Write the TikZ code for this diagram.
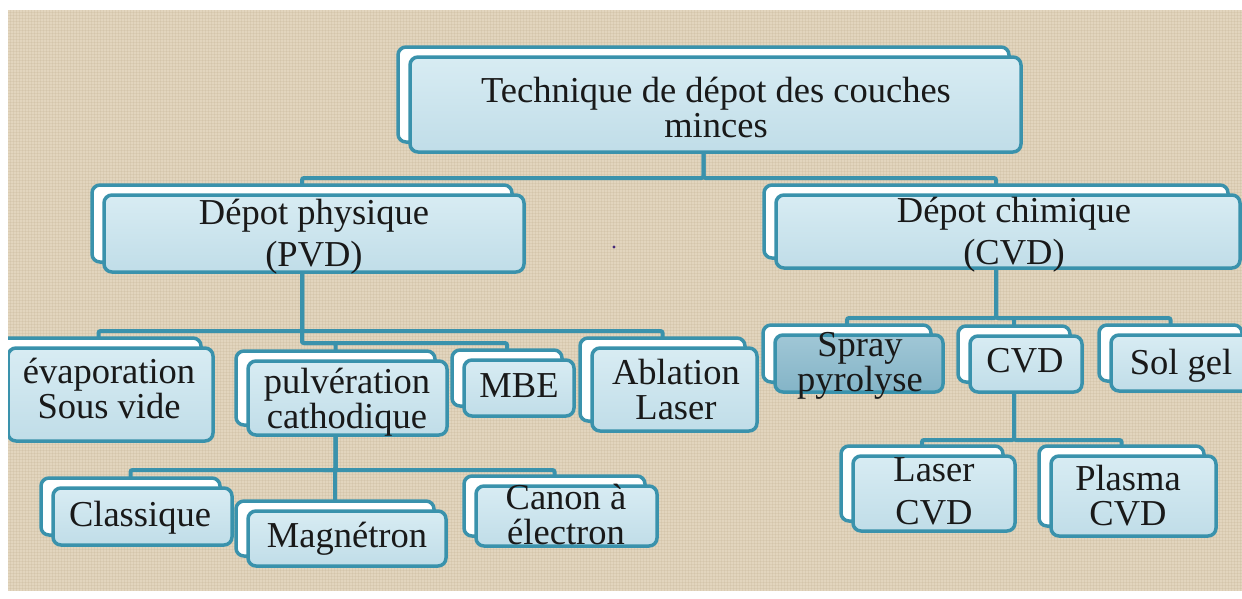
\documentclass[tikz,border=0pt]{standalone}
\usepackage{fontspec}
\setmainfont{Liberation Serif}
\pgfdeclarelayer{bgl}
\pgfdeclarelayer{connl}
\pgfsetlayers{bgl,connl,main}
\definecolor{teal1}{RGB}{58,146,172}
\definecolor{beige}{RGB}{226,213,190}
\definecolor{linen}{RGB}{196,180,150}
\definecolor{ftop}{RGB}{216,236,243}
\definecolor{fbot}{RGB}{192,221,232}
\definecolor{stop}{RGB}{160,199,214}
\definecolor{sbot}{RGB}{132,180,199}
\definecolor{ink}{RGB}{25,25,25}
\definecolor{dotc}{RGB}{70,40,120}
\tikzset{
  backbox/.style={draw=teal1, line width=3.5pt, fill=white, rounded corners=8pt, inner sep=0pt, outer sep=0pt},
  frontbox/.style={draw=teal1, line width=3.5pt, top color=ftop, bottom color=fbot, rounded corners=8pt, inner sep=0pt, outer sep=0pt},
  spraybox/.style={top color=stop, bottom color=sbot},
  conn/.style={draw=teal1, line width=4pt, rounded corners=2pt},
  lbl/.style={text=ink, align=center, inner sep=0pt, font=\fontsize{36.5}{#1}\selectfont},
}
% #1 name, #2 x1, #3 y1, #4 x2, #5 y2, #6 extra front style
\newcommand\tbox[6]{%
  \node[backbox, minimum width=#4-#2, minimum height=#5-#3] (#1-b) at ({(#2+#4)/2-12},{(#3+#5)/2-10}) {};
  \node[frontbox, #6, minimum width=#4-#2, minimum height=#5-#3] (#1) at ({(#2+#4)/2},{(#3+#5)/2}) {};
}
\begin{document}
\begin{tikzpicture}[x=1pt, y=-1pt]
\useasboundingbox (0,0) rectangle (1242,598);
\begin{pgfonlayer}{bgl}
  \fill[white] (0,0) rectangle (1242,598);
  \fill[beige] (8,10) rectangle (1242,591);
  \foreach \i in {10,13,...,1240} \draw[linen, opacity=0.25, line width=0.7pt] (\i,10) -- (\i,591);
  \foreach \j in {12,15,...,590} \draw[linen, opacity=0.25, line width=0.7pt] (8,\j) -- (1242,\j);
\end{pgfonlayer}

% boxes
\tbox{top}{410}{57}{1021}{152}{}
\tbox{pvd}{104}{195}{524}{272}{}
\tbox{cvd}{776}{195}{1240}{268}{}
\tbox{evap}{8}{348}{213}{441}{}
\tbox{pulv}{248}{361}{447}{435}{}
\tbox{mbe}{464}{360}{574}{416}{}
\tbox{abl}{592}{348}{757}{431}{}
\tbox{cla}{53}{488}{232}{545}{}
\tbox{mag}{248}{511}{446}{566}{}
\tbox{can}{476}{486}{657}{546}{}
\tbox{spray}{775}{335}{943}{392}{spraybox}
\tbox{cvds}{970}{336}{1082}{392}{}
\tbox{sol}{1111}{335}{1254}{391}{}
\tbox{las}{853}{456}{1015}{531}{}
\tbox{pla}{1051}{456}{1216}{536}{}

% texts
\node[lbl=35] (top-t) at (716,107.5) {Technique de dépot des couches\\minces};
\node[lbl=42] (pvd-t) at (314,237) {Dépot physique\\(PVD)};
\node[lbl=42] (cvd-t) at (1014,234.5) {Dépot chimique\\(CVD)};
\node[lbl=35] (evap-t) at (109,388.5) {évaporation\\Sous vide};
\node[lbl=35] (pulv-t) at (347,402) {pulvération\\cathodique};
\node[lbl=35] (mbe-t) at (519,386) {MBE};
\node[lbl=35] (abl-t) at (676,389.5) {Ablation\\Laser};
\node[lbl=35] (cla-t) at (140,518) {Classique};
\node[lbl=35] (mag-t) at (347,538.5) {Magnétron};
\node[lbl=35] (can-t) at (566,514.5) {Canon à\\électron};
\node[lbl=35] (spray-t) at (860,366) {Spray\\pyrolyse};
\node[lbl=35] (cvds-t) at (1025,361) {CVD};
\node[lbl=35] (sol-t) at (1181,366) {Sol gel};
\node[lbl=43] (las-t) at (934,491) {Laser\\CVD};
\node[lbl=35] (pla-t) at (1128,496) {Plasma\\CVD};

% connectors
\begin{pgfonlayer}{connl}
  \draw[conn] (top-b.south) -- ++(0,36) -| (pvd-b.north);
  \draw[conn] (top-b.south) -- ++(0,36) -| (cvd-b.north);
  \draw[conn] (pvd-b.south) -- ++(0,69) -| (evap-b.north);
  \draw[conn] (pvd-b.south) -- ++(0,69) -| (abl-b.north);
  \draw[conn] (pvd-b.south) -- ++(0,81) -| (pulv-b.north);
  \draw[conn] (pvd-b.south) -- ++(0,81) -| (mbe-b.north);
  \draw[conn] (pulv-b.south) -- ++(0,45) -| (cla-b.north);
  \draw[conn] (pulv-b.south) -- ++(0,45) -| (mag-b.north);
  \draw[conn] (pulv-b.south) -- ++(0,45) -| (can-b.north);
  \draw[conn] (cvd-b.south) -- ++(0,60) -| (spray-b.north);
  \draw[conn] (cvd-b.south) -- ++(0,60) -| (cvds-b.north);
  \draw[conn] (cvd-b.south) -- ++(0,60) -| (sol-b.north);
  \draw[conn] (cvds-b.south) -- ++(0,58) -| (las-b.north);
  \draw[conn] (cvds-b.south) -- ++(0,58) -| (pla-b.north);
\end{pgfonlayer}

\fill[dotc] (614,247) circle (1.6);

% white margins
\fill[white] (0,0) rectangle (1242,10);
\fill[white] (0,0) rectangle (8,598);
\fill[white] (0,591) rectangle (1242,598);
\end{tikzpicture}
\end{document}
